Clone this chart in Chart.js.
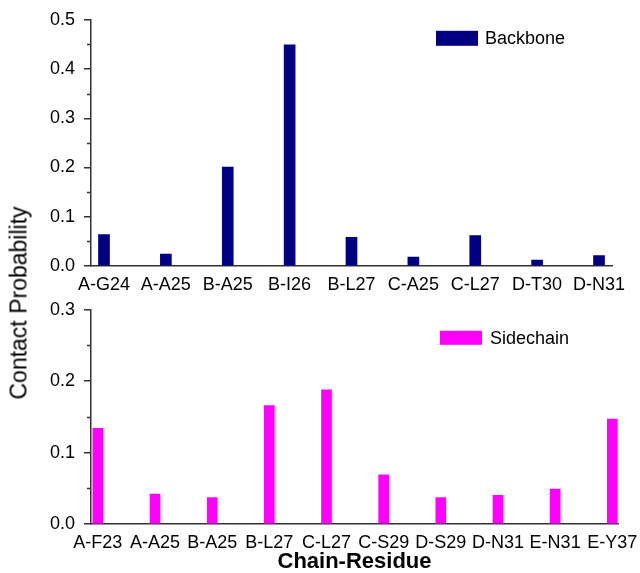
<!DOCTYPE html>
<html>
<head>
<meta charset="utf-8">
<script src="https://cdn.jsdelivr.net/npm/chart.js@4.4.1/dist/chart.umd.min.js"></script>
<style>
  body { margin: 0; background: #fff; }
  #wrap { position: relative; width: 640px; height: 573px; overflow: hidden; }
  canvas { position: absolute; left: 0; }
  #topChart { top: 0; }
  #bottomChart { top: 290px; }
  #yTitle {
    position: absolute; left: 19px; top: 303px;
    transform: translate(-50%, -50%) rotate(-90deg);
    font: 23px "Liberation Sans", Arial, sans-serif; color: #000; white-space: nowrap;
  }
</style>
</head>
<body>
<div id="wrap">
  <canvas id="topChart" width="640" height="300"></canvas>
  <canvas id="bottomChart" width="640" height="285"></canvas>
  <div id="yTitle">Contact Probability</div>
</div>
<script>
const backboneLabels = ['A-G24', 'A-A25', 'B-A25', 'B-I26', 'B-L27', 'C-A25', 'C-L27', 'D-T30', 'D-N31'];
const backboneValues = [0.064, 0.024, 0.201, 0.449, 0.058, 0.018, 0.062, 0.012, 0.021];

const sidechainLabels = ['A-F23', 'A-A25', 'B-A25', 'B-L27', 'C-L27', 'C-S29', 'D-S29', 'D-N31', 'E-N31', 'E-Y37'];
const sidechainValues = [0.134, 0.042, 0.037, 0.166, 0.188, 0.069, 0.037, 0.040, 0.049, 0.147];

const FONT = '"Liberation Sans", Arial, sans-serif';
const AXIS = '#333';

// small legend drawn inside the plot area
const boxLegend = {
    id: 'boxLegend',
    afterDraw(chart, args, opts) {
        const ds = chart.data.datasets[0];
        const ctx = chart.ctx;
        const x = chart.chartArea.right + opts.dx;
        const y = chart.chartArea.top + opts.dy;
        ctx.save();
        ctx.fillStyle = ds.backgroundColor;
        ctx.fillRect(x, y, 42, opts.h);
        ctx.fillStyle = '#000';
        ctx.font = '18px ' + FONT;
        ctx.textBaseline = 'middle';
        ctx.fillText(ds.label, x + opts.gap, y + opts.h / 2 + 1);
        ctx.restore();
    }
};

// minor ticks between the labelled y ticks
const minorTicks = {
    id: 'minorTicks',
    afterDraw(chart) {
        const y = chart.scales.y;
        const ctx = chart.ctx;
        const x0 = chart.chartArea.left;
        ctx.save();
        ctx.strokeStyle = AXIS;
        ctx.lineWidth = 1.5;
        for (let v = 0.05; v < y.max; v += 0.1) {
            const py = Math.round(y.getPixelForValue(v)) + 0.5;
            ctx.beginPath();
            ctx.moveTo(x0 - 4, py);
            ctx.lineTo(x0, py);
            ctx.stroke();
        }
        ctx.restore();
    }
};

function makePanel(canvasId, labels, values, opts) {
    return new Chart(document.getElementById(canvasId).getContext('2d'), {
        type: 'bar',
        data: {
            datasets: [{
                label: opts.label,
                data: values.map((v, i) => ({ x: i, y: v })),
                backgroundColor: opts.color,
                borderWidth: 0,
                barThickness: opts.barWidth
            }]
        },
        options: {
            responsive: false,
            animation: false,
            layout: { padding: { left: 0, top: opts.top, right: opts.right, bottom: 0 } },
            plugins: {
                legend: { display: false },
                tooltip: { enabled: false },
                boxLegend: opts.legend
            },
            scales: {
                x: {
                    type: 'linear',
                    offset: false,
                    min: opts.xMin,
                    max: opts.xMax,
                    afterBuildTicks: (s) => { s.ticks = labels.map((c, i) => ({ value: i })); },
                    afterFit: (s) => {
                        s.height = opts.xHeight;
                        s.paddingLeft = 0;
                        s.paddingRight = 0;
                    },
                    grid: { display: false, drawTicks: false },
                    border: { display: true, color: AXIS, width: 1.5 },
                    ticks: {
                        autoSkip: false,
                        maxRotation: 0,
                        padding: 8,
                        color: '#000',
                        font: { family: FONT, size: 18 },
                        callback: (v) => labels[v]
                    },
                    title: {
                        display: !!opts.xTitle,
                        text: opts.xTitle || '',
                        color: '#000',
                        padding: { top: 0, bottom: 0 },
                        font: { family: FONT, size: 22, weight: 'bold' }
                    }
                },
                y: {
                    min: 0,
                    max: opts.yMax,
                    afterFit: (s) => { s.width = 91; },
                    grid: { drawOnChartArea: false, drawTicks: true, tickLength: 7, color: AXIS, lineWidth: 1.5 },
                    border: { display: true, color: AXIS, width: 1.5 },
                    ticks: {
                        stepSize: 0.1,
                        padding: 9,
                        color: '#000',
                        font: { family: FONT, size: 18 },
                        callback: (v) => v.toFixed(1)
                    }
                }
            }
        },
        plugins: [boxLegend, minorTicks]
    });
}

makePanel('topChart', backboneLabels, backboneValues, {
    label: 'Backbone',
    color: '#000080',
    barWidth: 11,
    top: 16, right: 28, xHeight: 34,
    xMin: -0.21, xMax: 8.21,
    yMax: 0.5,
    legend: { dx: -176, dy: 11, h: 15, gap: 49 }
});

makePanel('bottomChart', sidechainLabels, sidechainValues, {
    label: 'Sidechain',
    color: '#ff00ff',
    barWidth: 10,
    top: 15, right: 22, xHeight: 51,
    xMin: -0.12, xMax: 9.1,
    yMax: 0.3,
    xTitle: 'Chain-Residue',
    legend: { dx: -178, dy: 21, h: 14, gap: 50 }
});
</script>
</body>
</html>
